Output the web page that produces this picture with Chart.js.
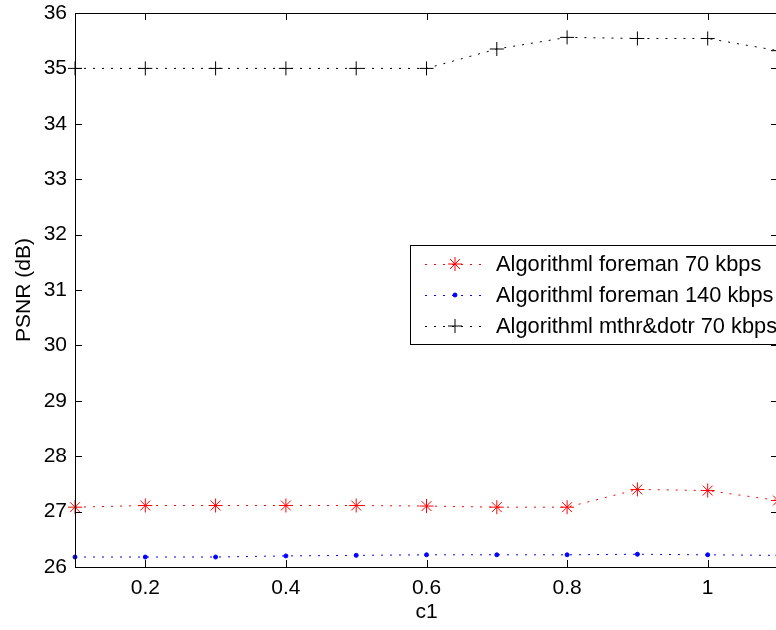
<!DOCTYPE html>
<html>
<head>
<meta charset="utf-8">
<script src="https://cdn.jsdelivr.net/npm/chart.js@4"></script>
<style>
  html, body { margin: 0; padding: 0; background: #fff; overflow: hidden; }
  #wrap { width: 776px; height: 630px; overflow: hidden; }
</style>
</head>
<body>
<div id="wrap"><canvas id="psnrChart" width="790" height="630"></canvas></div>
<script>
/* ── Data ───────────────────────────────────────────────────── */

const c1Values    = [0.1, 0.2, 0.3, 0.4, 0.5, 0.6, 0.7, 0.8, 0.9, 1.0, 1.1];
const foreman70   = [27.08, 27.11, 27.11, 27.11, 27.11, 27.10, 27.08, 27.08, 27.40, 27.38, 27.20];
const foreman140  = [26.18, 26.18, 26.18, 26.20, 26.21, 26.22, 26.22, 26.22, 26.23, 26.22, 26.21];
const mthrDotr70  = [35.00, 35.00, 35.00, 35.00, 35.00, 35.00, 35.35, 35.56, 35.54, 35.54, 35.32];
const xTicks      = [0.2, 0.4, 0.6, 0.8, 1.0];
const yTicks      = [26, 27, 28, 29, 30, 31, 32, 33, 34, 35, 36];
const seriesNames = ["Algorithml foreman 70 kbps", "Algorithml foreman 140 kbps", "Algorithml mthr&dotr 70 kbps"];

const FONT = "'Liberation Sans', Arial, Helvetica, sans-serif";
const FSIZE = 21;

function points(ys) {
  return c1Values.map((x, i) => ({ x, y: ys[i] }));
}

/* ── Plugins: MATLAB style box, inward ticks, legend ─────────── */

const boxPlugin = {
  id: "matlabBox",
  afterDatasetsDraw(chart) {
    const { ctx, chartArea: a, scales } = chart;
    const len = 7;
    ctx.save();
    ctx.strokeStyle = "#000";
    ctx.lineWidth = 1;
    ctx.beginPath();
    ctx.rect(Math.round(a.left) + 0.5, Math.round(a.top) + 0.5,
             Math.round(a.right - a.left), Math.round(a.bottom - a.top));
    xTicks.forEach(v => {
      const px = Math.round(scales.x.getPixelForValue(v)) + 0.5;
      ctx.moveTo(px, a.bottom); ctx.lineTo(px, a.bottom - len);
      ctx.moveTo(px, a.top);    ctx.lineTo(px, a.top + len);
    });
    yTicks.forEach(v => {
      const py = Math.round(scales.y.getPixelForValue(v)) + 0.5;
      ctx.moveTo(a.left, py);  ctx.lineTo(a.left + len, py);
      ctx.moveTo(a.right, py); ctx.lineTo(a.right - len, py);
    });
    ctx.stroke();
    ctx.restore();
  },
};

const legendPlugin = {
  id: "boxLegend",
  afterDraw(chart) {
    const { ctx } = chart;
    const left = 410, top = 245, right = 790, bottom = 344;
    ctx.save();
    ctx.fillStyle = "#fff";
    ctx.fillRect(left, top, right - left, bottom - top);
    ctx.strokeStyle = "#000";
    ctx.lineWidth = 1;
    ctx.strokeRect(left + 0.5, top + 0.5, right - left, bottom - top);

    chart.data.datasets.forEach((ds, i) => {
      const y = 264 + i * 31;
      ctx.strokeStyle = ds.borderColor;
      ctx.setLineDash(ds.borderDash);
      ctx.beginPath();
      ctx.moveTo(425, y + 0.5);
      ctx.lineTo(484, y + 0.5);
      ctx.stroke();
      ctx.setLineDash([]);
      ctx.fillStyle = ds.pointBackgroundColor;
      ctx.strokeStyle = ds.pointBorderColor;
      ctx.lineWidth = ds.pointBorderWidth;
      Chart.helpers.drawPoint(ctx, {
        pointStyle: ds.pointStyle, radius: ds.pointRadius,
        borderWidth: ds.pointBorderWidth, rotation: 0,
      }, 455, y);
      ctx.fillStyle = "#000";
      ctx.font = `21.8px ${FONT}`;
      ctx.textBaseline = "middle";
      ctx.fillText(ds.label, 496, y + 1);
      ctx.lineWidth = 1;
    });
    ctx.restore();
  },
};

/* ── Chart ──────────────────────────────────────────────────── */

new Chart(document.getElementById("psnrChart"), {
  type: "line",
  data: {
    datasets: [
      {
        label: seriesNames[0],
        data: points(foreman70),
        borderColor: "#ff0000", borderWidth: 1, borderDash: [2, 7],
        pointStyle: "star", pointRadius: 7, pointBorderWidth: 1,
        pointBorderColor: "#ff0000", pointBackgroundColor: "#ff0000",
        tension: 0, clip: false,
      },
      {
        label: seriesNames[1],
        data: points(foreman140),
        borderColor: "#0000ff", borderWidth: 1, borderDash: [2, 7],
        pointStyle: "circle", pointRadius: 2, pointBorderWidth: 1,
        pointBorderColor: "#0000ff", pointBackgroundColor: "#0000ff",
        tension: 0, clip: false,
      },
      {
        label: seriesNames[2],
        data: points(mthrDotr70),
        borderColor: "#000000", borderWidth: 1, borderDash: [2, 7],
        pointStyle: "cross", pointRadius: 7, pointBorderWidth: 1,
        pointBorderColor: "#000000", pointBackgroundColor: "#000000",
        tension: 0, clip: false,
      },
    ],
  },
  options: {
    responsive: false,
    animation: false,
    events: [],
    layout: { padding: { top: 13, right: 12, left: 0, bottom: 0 } },
    plugins: { legend: { display: false }, tooltip: { enabled: false } },
    scales: {
      x: {
        type: "linear", min: 0.1, max: 1.1,
        afterBuildTicks: s => { s.ticks = xTicks.map(v => ({ value: v })); },
        afterFit: s => { s.height = 63; s.paddingLeft = 0; s.paddingRight = 0; },
        grid: { display: false, drawTicks: false },
        border: { display: false },
        ticks: {
          color: "#000", padding: 9, maxRotation: 0, autoSkip: false,
          font: { family: FONT, size: FSIZE },
          callback: v => String(+v.toFixed(1)),
        },
        title: {
          display: true, text: "c1", color: "#000",
          font: { family: FONT, size: FSIZE }, padding: { top: 0, bottom: 5 },
        },
      },
      y: {
        type: "linear", min: 26, max: 36,
        afterBuildTicks: s => { s.ticks = yTicks.map(v => ({ value: v })); },
        afterFit: s => { s.width = 75; s.paddingTop = 0; s.paddingBottom = 0; },
        grid: { display: false, drawTicks: false },
        border: { display: false },
        ticks: {
          color: "#000", padding: 8, autoSkip: false,
          font: { family: FONT, size: FSIZE },
        },
        title: {
          display: true, text: "PSNR (dB)", color: "#000",
          font: { family: FONT, size: FSIZE }, padding: { top: 12, bottom: 0 },
        },
      },
    },
  },
  plugins: [boxPlugin, legendPlugin],
});
</script>
</body>
</html>
